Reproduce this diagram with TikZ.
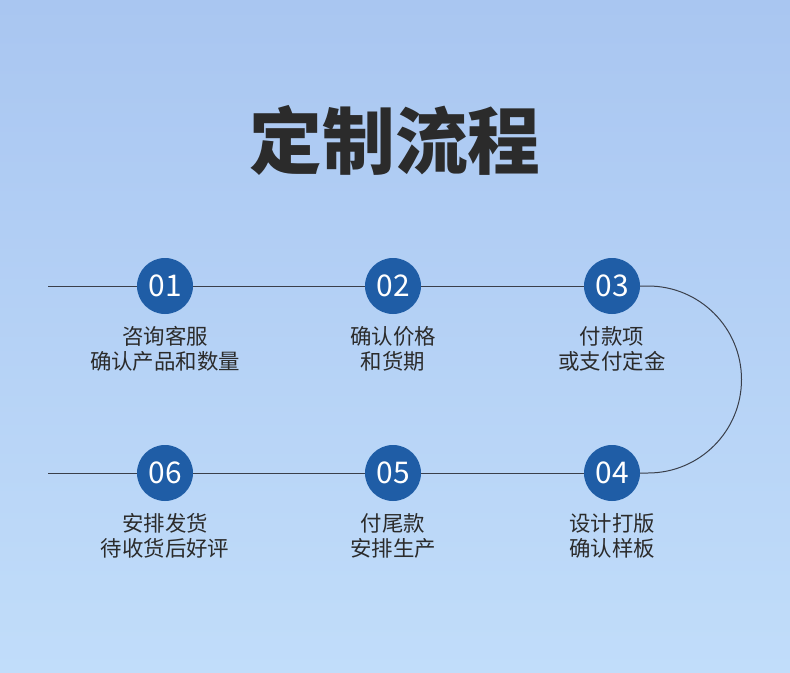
\documentclass[tikz,border=0pt]{standalone}
\usepackage{fontspec}
\setmainfont{Noto Sans CJK SC}
\usetikzlibrary{positioning}

\begin{document}
\begin{tikzpicture}[x=1bp,y=-1bp]
  % Six steps on a track that runs right along the top row and comes back along the bottom.
  \definecolor{skytop}{HTML}{A9C6F1}
  \definecolor{skybot}{HTML}{C1DDFA}
  \definecolor{stepblue}{HTML}{1F5DA6}
  \definecolor{track}{HTML}{3A3F4A}
  \definecolor{ink}{HTML}{2B2B2B}
  \shade[top color=skytop,bottom color=skybot] (0,0) rectangle (790,673);
  \useasboundingbox (0,0) rectangle (790,673);

  \tikzset{stepdot/.style={circle,fill=stepblue,text=white,minimum size=56bp,inner sep=0pt,
             font=\fontsize{30}{30}\selectfont},
           note/.style={text=ink,align=center,font=\fontsize{21.5}{25}\selectfont,inner sep=0pt}}

  \node[text=ink,font=\fontsize{73}{73}\selectfont\bfseries] (title) at (395,140) {定制流程};

  \coordinate (s1) at (48,286);
  \coordinate (s6) at (48,473);
  \coordinate (turn) at (648,286);
  \node[stepdot] (c1) at (165,286) {01};
  \node[stepdot] (c2) at (393,286) {02};
  \node[stepdot] (c3) at (612,286) {03};
  \node[stepdot] (c4) at (612,473) {04};
  \node[stepdot] (c5) at (393,473) {05};
  \node[stepdot] (c6) at (165,473) {06};

  \draw[track,line width=1pt] (s1) -- (c1);
  \draw[track,line width=1pt] (c1) -- (c2);
  \draw[track,line width=1pt] (c2) -- (c3);
  \draw[track,line width=1pt] (c3) -- (turn) arc[start angle=-90,end angle=90,radius=93.5] -- (c4);
  \draw[track,line width=1pt] (c4) -- (c5);
  \draw[track,line width=1pt] (c5) -- (c6);
  \draw[track,line width=1pt] (c6) -- (s6);

  \node[note] (n1) at (165,349) {咨询客服\\确认产品和数量};
  \node[note] (n2) at (393,349) {确认价格\\和货期};
  \node[note] (n3) at (612,349) {付款项\\或支付定金};
  \node[note] (n4) at (612,536) {设计打版\\确认样板};
  \node[note] (n5) at (393,536) {付尾款\\安排生产};
  \node[note] (n6) at (165,536) {安排发货\\待收货后好评};
\end{tikzpicture}
\end{document}
